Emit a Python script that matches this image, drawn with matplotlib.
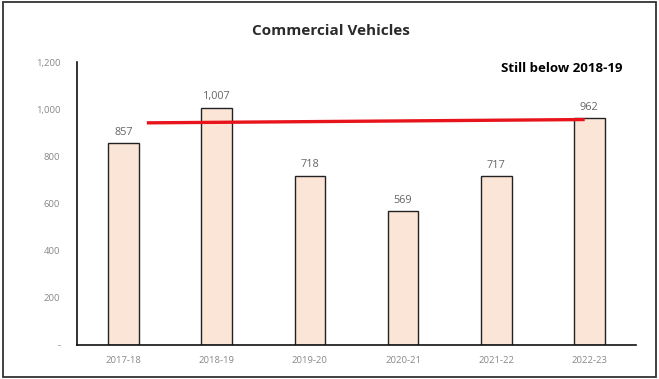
import matplotlib.pyplot as plt
from matplotlib.patches import Rectangle
from matplotlib.ticker import FuncFormatter

years = ["2017-18", "2018-19", "2019-20", "2020-21", "2021-22", "2022-23"]
sales = [857, 1007, 718, 569, 717, 962]

# hand-drawn red marker line across the bars
line_x = [0.25, 4.95]
line_y = [942, 956]

yticks = [0, 200, 400, 600, 800, 1000, 1200]

plt.rcParams["font.family"] = ["Open Sans", "DejaVu Sans"]

fig = plt.figure(figsize=(6.59, 3.79), dpi=100)
ax = fig.add_axes([0.1168, 0.0897, 0.8482, 0.7467])

ax.bar(range(len(years)), sales, width=0.33, color="#FBE5D6",
       edgecolor="#222222", linewidth=1.0, zorder=2)

for i, v in enumerate(sales):
    ax.text(i, v + 22, f"{v:,}", ha="center", va="bottom",
            fontsize=7.8, color="#666666")

ax.plot(line_x, line_y, color="#E8141B", linewidth=2.4, zorder=3,
        solid_capstyle="butt")

ax.set_xlim(-0.5, len(years) - 0.5)
ax.set_ylim(0, 1200)
ax.set_xticks(range(len(years)))
ax.set_xticklabels(years)
ax.set_yticks(yticks)
ax.yaxis.set_major_formatter(
    FuncFormatter(lambda v, _: "-" if v == 0 else f"{int(v):,}"))
ax.tick_params(axis="both", length=0, labelsize=6.8, labelcolor="#888888")
ax.tick_params(axis="y", pad=12)
ax.tick_params(axis="x", pad=8)

for side in ("top", "right"):
    ax.spines[side].set_visible(False)
for side in ("left", "bottom"):
    ax.spines[side].set_color("#111111")
    ax.spines[side].set_linewidth(1.2)

fig.text(0.502, 0.918, "Commercial Vehicles", ha="center", va="center",
         fontsize=11, fontweight="bold", color="#2b2b2b")
fig.text(0.945, 0.82, "Still below 2018-19", ha="right", va="center",
         fontsize=9.5, fontweight="bold", color="#000000")

# frame around the whole chart
fig.patches.append(Rectangle((0.004, 0.005), 0.991, 0.99, transform=fig.transFigure,
                             fill=False, edgecolor="#333333", linewidth=1.3))

fig.savefig("out.png", dpi=100)
